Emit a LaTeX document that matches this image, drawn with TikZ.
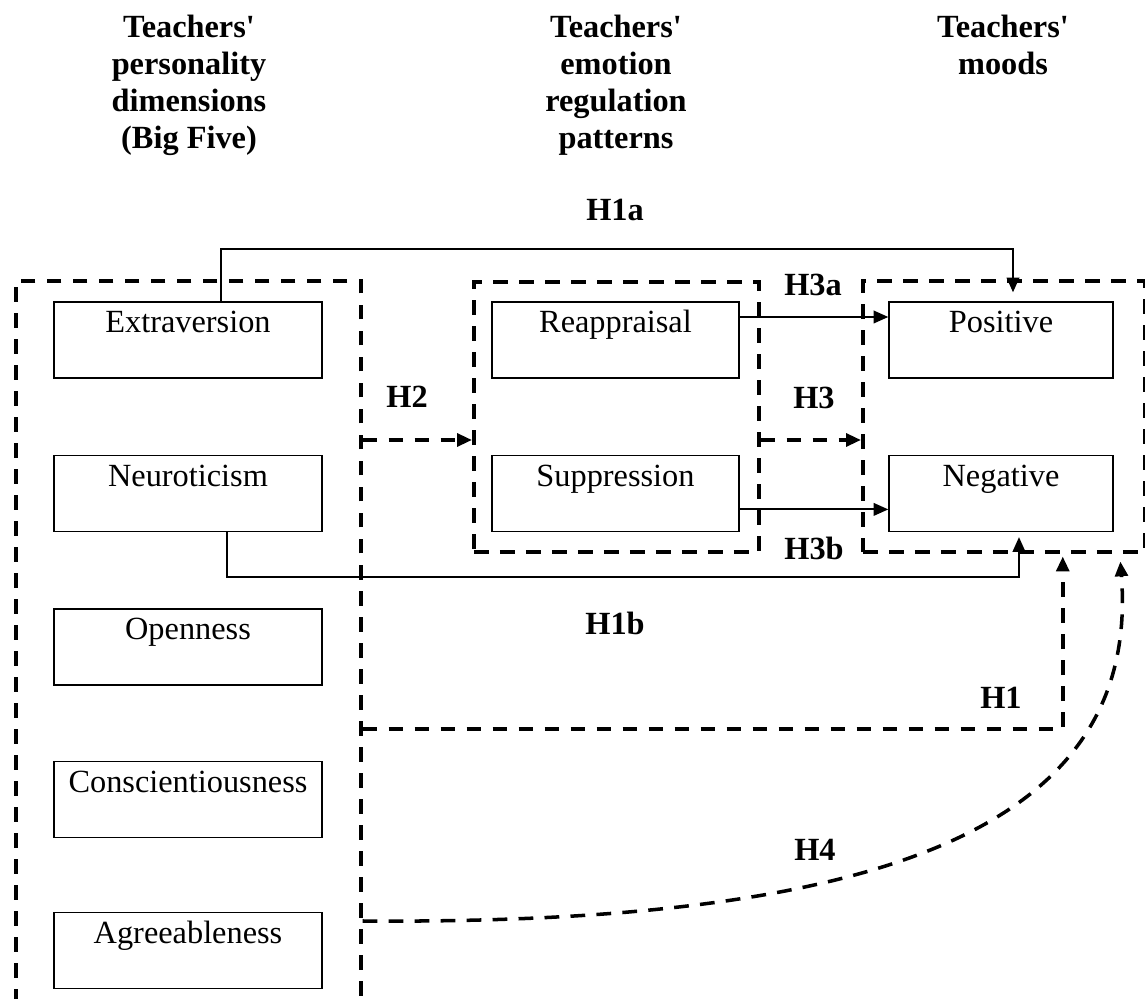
\documentclass[tikz,border=0pt]{standalone}
\usepackage{fontspec}
\setmainfont{Liberation Serif}[Ligatures=TeXOff]
\usetikzlibrary{arrows.meta, positioning}

\tikzset{
  factor/.style={draw, line width=0.4pt, minimum width=2.68cm, minimum height=0.76cm,
    inner xsep=0pt, inner ysep=0.08cm, text height=0.23cm, text depth=0.37cm,
    font=\fontsize{9.2}{11}\selectfont},
  group/.style={draw, line width=1pt, dash pattern=on 4.2pt off 3.2pt, inner sep=0pt},
  link/.style={line width=0.55pt, -{Triangle[length=4.2pt,width=3.6pt]}},
  dlink/.style={link, line width=1pt, dash pattern=on 4.2pt off 3.2pt},
  hyp/.style={font=\bfseries\fontsize{9.2}{11}\selectfont, inner sep=0pt},
  heading/.style={font=\bfseries\fontsize{9.2}{10.6}\selectfont, align=center,
    anchor=north, inner sep=0pt}
}

\begin{document}
\begin{tikzpicture}
  \useasboundingbox (0,0) rectangle (11.45,-9.99);

  % column headings
  \node[heading] (headbig) at (1.89,-0.14) {Teachers'\\personality\\dimensions\\(Big Five)};
  \node[heading] (headreg) at (6.16,-0.14) {Teachers'\\emotion\\regulation\\patterns};
  \node[heading] (headmood) at (10.03,-0.14) {Teachers'\\moods};

  % dashed groups
  \node[group, anchor=north west, minimum width=3.45cm, minimum height=7.60cm] (bigfive) at (0.14,-2.79) {};
  \node[group, anchor=north west, minimum width=2.85cm, minimum height=2.70cm] (regul) at (4.72,-2.80) {};
  \node[group, anchor=north west, minimum width=2.82cm, minimum height=2.71cm] (moods) at (8.61,-2.79) {};

  % personality
  \node[factor] (extra) at (1.88,-3.40) {Extraversion};
  \node[factor, below=0.76cm of extra] (neuro) {Neuroticism};
  \node[factor, below=0.76cm of neuro] (open) {Openness};
  \node[factor, below=0.75cm of open] (consc) {Conscientiousness};
  \node[factor, below=0.74cm of consc] (agree) {Agreeableness};

  % regulation and moods
  \node[factor, minimum width=2.47cm] (reap) at (6.155,-3.40) {Reappraisal};
  \node[factor, minimum width=2.47cm, below=0.76cm of reap] (supp) {Suppression};
  \node[factor, minimum width=2.24cm] (posi) at (10.01,-3.40) {Positive};
  \node[factor, minimum width=2.24cm, below=0.76cm of posi] (nega) {Negative};

  \coordinate (toprail) at (0,-2.49);
  \coordinate (midrail) at (0,-4.40);
  \coordinate (lowrail) at (0,-5.77);
  \coordinate (h1rail) at (0,-7.29);
  \coordinate (h4rail) at (0,-9.21);

  % H1a
  \draw[link, shorten >=0.09cm] ([xshift=0.33cm]extra.north) -- ([xshift=0.33cm]extra.north |- toprail)
    -| ([xshift=0.12cm]posi.north);
  % H3a, H3b
  \draw[link] ([yshift=0.23cm]reap.east) -- ([yshift=0.23cm]posi.west);
  \draw[link] ([yshift=-0.16cm]supp.east) -- ([yshift=-0.16cm]nega.west);
  % H2, H3
  \draw[dlink] (bigfive.east |- midrail) -- (regul.west |- midrail);
  \draw[dlink] (regul.east |- midrail) -- (moods.west |- midrail);
  % H1b
  \draw[link, shorten >=0.05cm] ([xshift=0.39cm]neuro.south) |- ([xshift=0.18cm]nega.south |- lowrail)
    -- ([xshift=0.18cm]nega.south);
  % H1
  \draw[dlink, shorten >=0.03cm] (bigfive.east |- h1rail) -| ([xshift=0.59cm]moods.south);
  % H4
  \draw[dlink, shorten >=0.08cm] (bigfive.east |- h4rail) .. controls (9.00,-9.25) and (11.40,-8.20)
    .. ([xshift=1.16cm]moods.south);

  % hypothesis labels
  \node[hyp] (lh1a) at (6.15,-2.10) {H1a};
  \node[hyp] (lh2) at (4.07,-3.97) {H2};
  \node[hyp] (lh3a) at (8.13,-2.85) {H3a};
  \node[hyp] (lh3) at (8.14,-3.98) {H3};
  \node[hyp] (lh3b) at (8.14,-5.48) {H3b};
  \node[hyp] (lh1b) at (6.15,-6.23) {H1b};
  \node[hyp] (lh1) at (10.01,-6.98) {H1};
  \node[hyp] (lh4) at (8.15,-8.50) {H4};
\end{tikzpicture}
\end{document}
